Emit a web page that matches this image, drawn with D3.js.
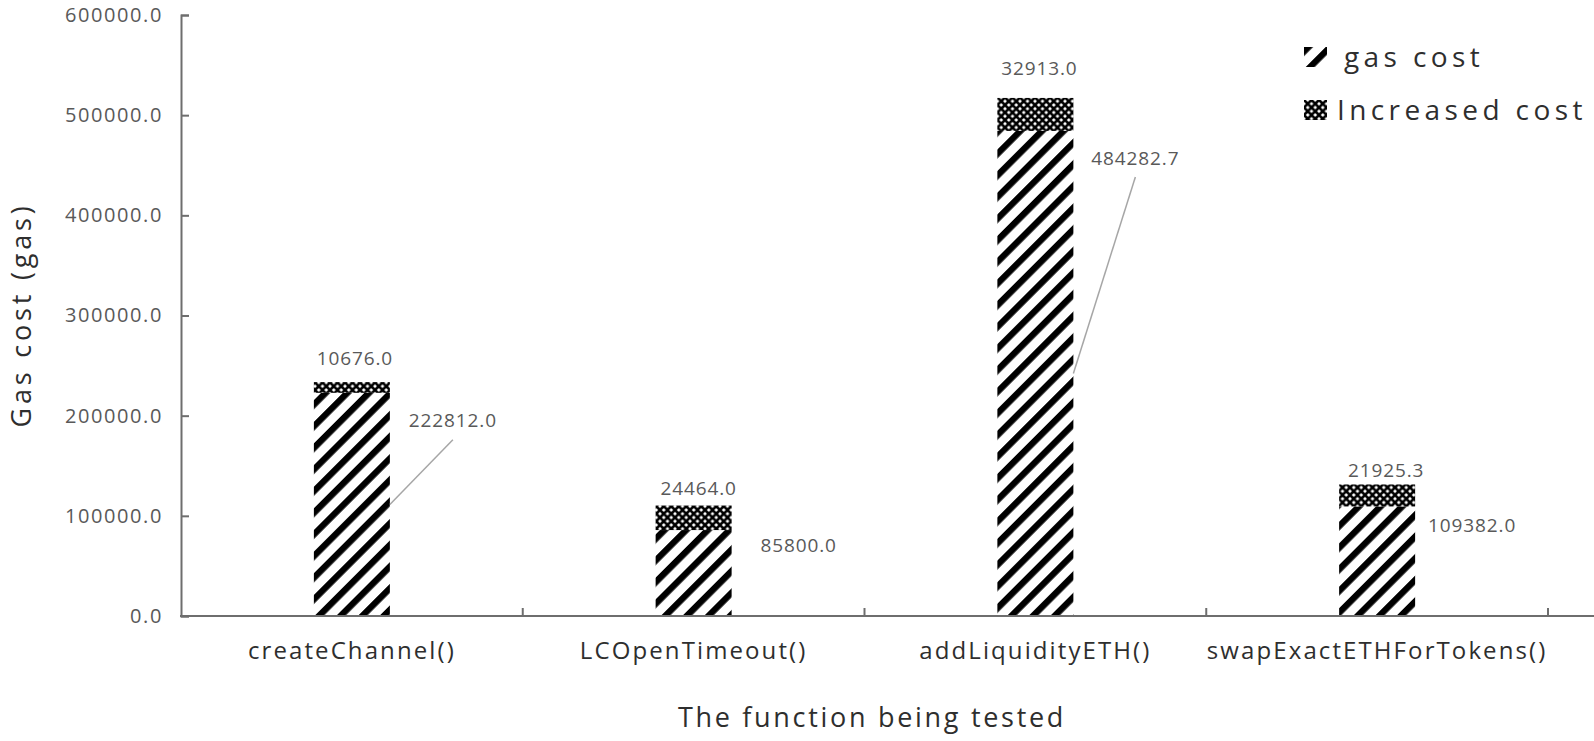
<!DOCTYPE html>
<html>
<head>
<meta charset="utf-8">
<script src="https://cdn.jsdelivr.net/npm/d3@7"></script>
<style>
  body { margin: 0; background: #fff; }
  text { font-family: "Open Sans", sans-serif; }
</style>
</head>
<body>
<div id="chart"></div>
<script>
// chart data
var categories = ["createChannel()", "LCOpenTimeout()", "addLiquidityETH()", "swapExactETHForTokens()"];
var gasCost = [222812.0, 85800.0, 484282.7, 109382.0];
var increasedCost = [10676.0, 24464.0, 32913.0, 21925.3];
var yTicks = [0, 100000, 200000, 300000, 400000, 500000, 600000];
var seriesNames = ["gas cost", "Increased cost"];

// hand placed label nudges (pixels), like the dragged labels of the original
var gasLabelNudge = [[63, 28], [67, 15], [62, 27], [57, 19]];
var incLabelNudge = [[3, -24], [5, -17], [4, -30], [9, -14]];
var leaderLine = [true, false, true, false];

var svgWidth = 1594, svgHeight = 741;
var barW = 76;

var svg = d3.select("#chart").append("svg")
    .attr("width", svgWidth)
    .attr("height", svgHeight);

// patterns
var defs = svg.append("defs");
var stripes = defs.append("pattern")
    .attr("id", "stripes")
    .attr("patternUnits", "userSpaceOnUse")
    .attr("width", 15.3)
    .attr("height", 15.3)
    .attr("patternTransform", "rotate(45)");
stripes.append("rect").attr("width", 15.3).attr("height", 15.3).attr("fill", "#fff");
stripes.append("rect").attr("x", 0).attr("width", 6.4).attr("height", 15.3).attr("fill", "#000");

var cross = defs.append("pattern")
    .attr("id", "cross")
    .attr("patternUnits", "userSpaceOnUse")
    .attr("width", 7.5)
    .attr("height", 7.5);
cross.append("rect").attr("width", 7.5).attr("height", 7.5).attr("fill", "#fff");
cross.append("path")
    .attr("d", "M0,0L7.5,7.5M7.5,0L0,7.5")
    .attr("stroke", "#000")
    .attr("stroke-width", 2.6);
[[0, 0], [7.5, 0], [0, 7.5], [7.5, 7.5]].forEach(function (p) {
    cross.append("circle").attr("cx", p[0]).attr("cy", p[1]).attr("r", 1.9).attr("fill", "#000");
});

// scales
var x = d3.scaleBand()
    .domain(categories)
    .range([181, 1548])
    .padding(0);
var y = d3.scaleLinear()
    .domain([0, 600000])
    .range([616, 15]);

var fmt = d3.format(".1f");

// bars: gas cost at the bottom, increased cost stacked on top
var barX = function (d, i) { return x(categories[i]) + x.bandwidth() / 2 - barW / 2; };

svg.append("g").selectAll("rect")
    .data(gasCost)
    .enter().append("rect")
    .attr("x", barX)
    .attr("y", d => y(d))
    .attr("width", barW)
    .attr("height", d => y(0) - y(d))
    .attr("fill", "url(#stripes)");

svg.append("g").selectAll("rect")
    .data(increasedCost)
    .enter().append("rect")
    .attr("x", barX)
    .attr("y", (d, i) => y(d + gasCost[i]))
    .attr("width", barW)
    .attr("height", (d, i) => y(gasCost[i]) - y(d + gasCost[i]))
    .attr("fill", "url(#cross)");

// y axis
var yAxis = svg.append("g")
    .attr("transform", "translate(181,0)")
    .call(d3.axisLeft(y).tickValues(yTicks).tickFormat(fmt).tickSize(-8).tickPadding(18));
yAxis.select(".domain").attr("stroke", "#6e6e6e").attr("stroke-width", 2);
yAxis.selectAll(".tick line").attr("stroke", "#6e6e6e").attr("stroke-width", 2);
yAxis.selectAll(".tick text")
    .attr("fill", "#595959")
    .style("font-size", "20px")
    .style("letter-spacing", "1.6px")
    .style("font-family", "'Open Sans', sans-serif");

// x axis
var xAxisG = svg.append("g");
xAxisG.append("line")
    .attr("x1", 180).attr("x2", svgWidth)
    .attr("y1", y(0)).attr("y2", y(0))
    .attr("stroke", "#6e6e6e").attr("stroke-width", 2);
xAxisG.selectAll("line.tk")
    .data(categories)
    .enter().append("line")
    .attr("class", "tk")
    .attr("x1", d => x(d) + x.bandwidth())
    .attr("x2", d => x(d) + x.bandwidth())
    .attr("y1", y(0)).attr("y2", y(0) - 8)
    .attr("stroke", "#6e6e6e").attr("stroke-width", 2);
xAxisG.selectAll("text")
    .data(categories)
    .enter().append("text")
    .attr("x", d => x(d) + x.bandwidth() / 2)
    .attr("y", 651)
    .attr("dy", "0.35em")
    .attr("text-anchor", "middle")
    .attr("fill", "#2e2e2e")
    .style("font-size", "24px")
    .style("letter-spacing", "2.1px")
    .text(d => d);

// axis titles
svg.append("text")
    .attr("x", 872)
    .attr("y", 718)
    .attr("dy", "0.35em")
    .attr("text-anchor", "middle")
    .attr("fill", "#2e2e2e")
    .style("font-size", "27px")
    .style("letter-spacing", "2.7px")
    .text("The function being tested");

svg.append("text")
    .attr("transform", "translate(22,315) rotate(-90)")
    .attr("dy", "0.35em")
    .attr("text-anchor", "middle")
    .attr("fill", "#2e2e2e")
    .style("font-size", "27px")
    .style("letter-spacing", "3.8px")
    .text("Gas cost (gas)");

// leader lines from the middle of the gas cost segment to its label
var leaderIdx = d3.range(gasCost.length).filter(i => leaderLine[i]);
svg.append("g").selectAll("line")
    .data(leaderIdx)
    .enter().append("line")
    .attr("x1", i => barX(gasCost[i], i) + barW)
    .attr("y1", i => y(gasCost[i] / 2))
    .attr("x2", i => barX(gasCost[i], i) + barW + gasLabelNudge[i][0])
    .attr("y2", i => y(gasCost[i]) + gasLabelNudge[i][1] + 19)
    .attr("stroke", "#a6a6a6")
    .attr("stroke-width", 1.5);

// value labels
svg.append("g").selectAll("text")
    .data(gasCost)
    .enter().append("text")
    .attr("x", (d, i) => barX(d, i) + barW + gasLabelNudge[i][0])
    .attr("y", (d, i) => y(d) + gasLabelNudge[i][1])
    .attr("dy", "0.35em")
    .attr("text-anchor", "middle")
    .attr("fill", "#595959")
    .style("font-size", "19px")
    .style("letter-spacing", "0.9px")
    .text(d => fmt(d));

svg.append("g").selectAll("text")
    .data(increasedCost)
    .enter().append("text")
    .attr("x", (d, i) => barX(d, i) + barW / 2 + incLabelNudge[i][0])
    .attr("y", (d, i) => y(d + gasCost[i]) + incLabelNudge[i][1])
    .attr("dy", "0.35em")
    .attr("text-anchor", "middle")
    .attr("fill", "#595959")
    .style("font-size", "19px")
    .style("letter-spacing", "0.9px")
    .text(d => fmt(d));

// legend
var legend = svg.append("g").attr("transform", "translate(1304,47)");
var legendRows = legend.selectAll("g")
    .data(seriesNames)
    .enter().append("g")
    .attr("transform", (d, i) => `translate(0, ${i * 53})`);
legendRows.append("rect")
    .attr("width", 23)
    .attr("height", 20)
    .attr("fill", (d, i) => i === 0 ? "url(#stripes)" : "url(#cross)");
legendRows.append("text")
    .attr("x", (d, i) => i === 0 ? 40 : 33)
    .attr("y", 10)
    .attr("dy", "0.35em")
    .attr("fill", "#2e2e2e")
    .style("font-size", "28px")
    .style("letter-spacing", "4.4px")
    .text(d => d);
</script>
</body>
</html>
